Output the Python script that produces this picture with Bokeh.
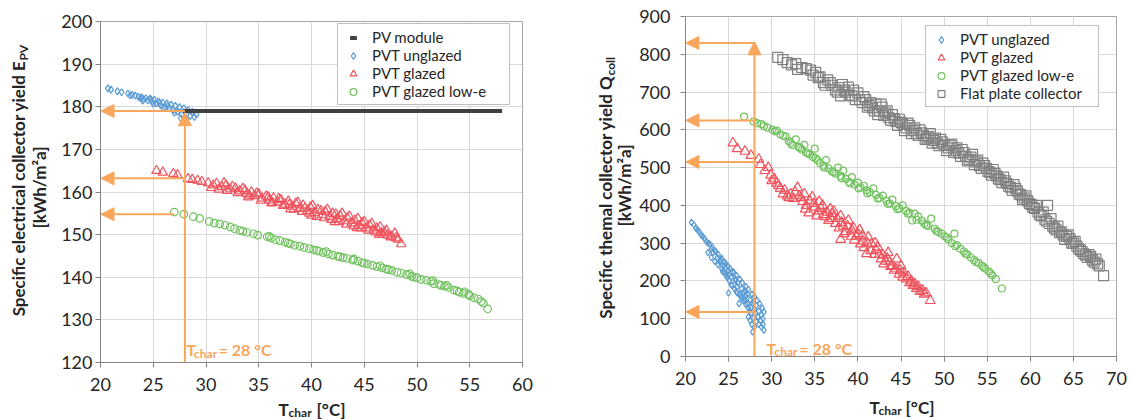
import math
from bokeh.plotting import figure
from bokeh.layouts import row, gridplot
from bokeh.models import Range1d, FixedTicker, Label, Arrow, NormalHead
from bokeh.embed import file_html
from bokeh.resources import INLINE

# ---------------- data ----------------
x_ticks_left = [20, 25, 30, 35, 40, 45, 50, 55, 60]
y_ticks_left = [120, 130, 140, 150, 160, 170, 180, 190, 200]
x_ticks_right = [20, 25, 30, 35, 40, 45, 50, 55, 60, 65, 70]
y_ticks_right = [0, 100, 200, 300, 400, 500, 600, 700, 800, 900]

# Left panel: specific electrical yield E_PV [kWh/m2a] vs T_char [degC]
pv_module_x = [28.4, 29.3, 30.2, 31.1, 32.0, 32.9, 33.8, 34.7, 35.6, 36.5, 37.4, 38.3,
               39.2, 40.1, 41.0, 41.9, 42.8, 43.7, 44.6, 45.5, 46.4, 47.3, 48.2, 49.1,
               50.0, 50.9, 51.8, 52.7, 53.6, 54.5, 55.4, 56.3, 57.2, 57.5]
pv_module_y = [179.0] * len(pv_module_x)

elec_unglazed = [(20.7, 184.3), (21.0, 184.0), (21.6, 183.6), (22.0, 183.4), (22.6, 183.1),
                 (23.0, 182.8), (23.3, 182.6), (23.6, 182.3), (23.9, 182.2), (24.1, 181.8),
                 (24.3, 182.0), (24.5, 181.5), (24.7, 181.9), (24.9, 181.2), (25.1, 181.6),
                 (25.3, 180.8), (25.5, 181.3), (25.7, 180.4), (25.9, 181.0), (26.1, 180.0),
                 (26.3, 180.8), (26.5, 179.6), (26.7, 180.5), (26.9, 179.2), (27.1, 180.2),
                 (27.3, 178.8), (27.5, 179.9), (27.7, 178.2), (27.9, 179.6), (28.0, 176.5),
                 (28.1, 177.4), (28.3, 179.2), (28.5, 177.8), (28.7, 178.8), (28.9, 177.6),
                 (29.1, 178.2), (24.0, 181.4), (25.0, 180.7), (26.0, 179.6), (27.0, 178.6),
                 (27.6, 177.3), (26.4, 180.3), (25.6, 180.9), (24.8, 181.6), (23.8, 182.0),
                 (22.8, 182.7)]
elec_glazed = [(25.3, 165.0), (25.9, 164.6), (26.9, 164.3), (27.3, 164.0), (28.3, 163.1),
               (28.7, 162.9), (29.2, 162.7), (29.6, 162.4), (30.2, 162.1), (30.7, 161.6),
               (31.0, 162.0), (31.5, 161.2), (31.9, 161.6), (32.3, 160.7), (32.8, 160.9),
               (33.2, 160.2), (33.5, 160.8), (33.9, 159.6), (34.3, 160.0), (34.6, 159.1),
               (35.0, 159.5), (35.3, 158.5), (35.7, 159.0), (36.0, 158.1), (36.4, 158.6),
               (36.8, 157.6), (37.1, 158.2), (37.5, 157.1), (37.8, 157.8), (38.2, 156.6),
               (38.5, 157.3), (38.9, 156.1), (39.2, 156.9), (39.6, 155.6), (39.9, 156.4),
               (40.3, 155.1), (40.6, 155.9), (41.0, 154.6), (41.3, 155.4), (41.7, 154.2),
               (42.0, 155.0), (42.4, 153.7), (42.7, 154.4), (43.1, 153.2), (43.4, 153.9),
               (43.8, 152.7), (44.1, 153.3), (44.5, 152.1), (44.8, 152.8), (45.2, 151.5),
               (45.5, 152.2), (45.9, 151.0), (46.2, 151.5), (46.6, 150.4), (46.9, 150.6),
               (47.2, 149.9), (47.6, 149.6), (48.0, 149.2), (48.5, 147.8), (30.5, 161.0),
               (32.0, 160.3), (34.0, 158.8), (36.2, 157.4), (38.0, 156.0), (40.0, 154.5),
               (42.2, 153.0), (44.3, 151.6), (46.4, 150.0),
               (31.2, 160.6), (31.7, 162.1), (32.5, 161.3), (33.0, 159.8), (33.7, 160.4),
               (34.1, 159.2), (34.8, 159.7), (35.2, 158.0), (35.9, 158.8), (36.3, 157.5),
               (36.9, 158.4), (37.3, 156.8), (37.9, 157.0), (38.3, 155.9), (38.7, 157.5),
               (39.1, 155.4), (39.4, 156.2), (39.8, 155.0), (40.1, 156.8), (40.5, 154.2),
               (40.9, 155.6), (41.2, 153.9), (41.5, 155.9), (41.9, 153.5), (42.3, 154.8),
               (42.6, 153.0), (42.9, 155.0), (43.3, 152.4), (43.6, 154.3), (44.0, 152.0),
               (44.4, 153.8), (44.7, 151.5), (45.0, 153.1), (45.4, 151.0), (45.7, 152.6),
               (46.1, 150.6), (46.5, 151.8), (46.8, 150.0), (47.1, 151.0), (47.5, 149.4),
               (47.9, 150.3), (48.2, 148.9)]
elec_lowe = [(27.0, 155.3), (27.9, 154.8), (28.8, 154.2), (29.4, 153.8), (30.3, 153.1),
             (30.8, 152.7), (31.3, 152.5), (31.8, 152.2), (32.3, 151.8), (32.7, 151.4),
             (33.5, 150.8), (33.9, 150.5), (34.5, 150.2), (34.9, 149.9), (35.8, 149.5),
             (36.2, 149.2), (36.6, 148.8), (37.0, 148.6), (37.5, 148.2), (38.0, 147.8),
             (38.4, 147.5), (38.9, 147.3), (39.3, 147.0), (39.8, 146.7), (40.2, 146.4),
             (40.7, 146.1), (41.1, 145.8), (41.6, 145.5), (42.0, 145.2), (42.5, 144.9),
             (43.0, 144.6), (43.4, 144.4), (43.9, 144.0), (44.4, 143.8), (44.8, 143.4),
             (45.3, 143.1), (45.8, 142.8), (46.2, 142.5), (46.7, 142.2), (47.1, 141.9),
             (47.6, 141.6), (48.1, 141.2), (48.5, 141.0), (49.0, 140.6), (49.5, 140.2),
             (50.0, 139.9), (50.4, 139.5), (50.9, 139.3), (51.3, 139.0), (51.6, 138.5),
             (52.1, 138.3), (52.6, 137.9), (53.0, 137.6), (53.5, 137.0), (54.0, 136.5),
             (54.4, 136.2), (54.9, 136.0), (55.4, 135.2), (55.8, 134.9), (56.1, 134.3),
             (56.7, 132.6), (36.0, 149.6), (41.4, 146.0), (44.0, 144.3), (46.5, 142.7),
             (49.3, 140.8), (51.5, 139.2), (52.8, 138.1), (54.5, 136.6), (55.0, 135.6),
             (33.2, 151.0), (37.8, 148.0), (40.5, 146.3), (42.7, 144.8), (45.0, 143.3),
             (47.3, 141.8), (49.7, 140.0), (52.3, 138.1), (53.8, 136.8), (56.3, 133.9)]

# Right panel: specific thermal yield Q_coll [kWh/m2a] vs T_char [degC]
therm_unglazed = [(20.7, 355), (21.2, 340), (21.6, 330), (22.0, 318), (22.4, 305), (22.8, 298),
                  (23.1, 290), (23.5, 278), (23.8, 270), (24.2, 260), (24.5, 250), (24.9, 240),
                  (25.2, 232), (25.6, 222), (25.9, 215), (26.3, 205), (26.6, 195), (27.0, 185),
                  (27.3, 178), (27.7, 165), (28.0, 158), (28.3, 148), (28.6, 140), (28.9, 128),
                  (29.1, 118), (22.6, 275), (23.0, 262), (23.4, 252), (23.8, 243), (24.2, 232),
                  (24.5, 222), (24.8, 210), (25.1, 200), (25.4, 188), (25.7, 178), (26.0, 168),
                  (26.4, 158), (26.7, 148), (27.0, 138), (27.3, 128), (27.6, 115), (27.9, 102),
                  (28.2, 92), (28.5, 85), (28.8, 78), (29.1, 70), (27.8, 65), (25.0, 168),
                  (26.2, 140), (27.5, 95), (24.0, 250), (25.0, 215), (26.0, 185), (27.0, 160),
                  (28.0, 125), (23.2, 275), (24.6, 235), (25.8, 200), (26.8, 170), (27.8, 140),
                  (21.0, 348), (21.4, 335), (21.8, 322), (22.2, 312), (22.6, 300), (23.0, 285),
                  (23.4, 280), (23.7, 262), (24.1, 255), (24.4, 240), (24.7, 245), (25.0, 228),
                  (25.3, 210), (25.5, 225), (25.8, 205), (26.1, 195), (26.5, 180), (26.9, 175),
                  (27.2, 165), (27.5, 150), (27.9, 145), (28.2, 135), (28.5, 120), (28.8, 110),
                  (29.0, 100), (26.3, 165), (26.9, 150), (27.2, 140), (27.6, 130), (28.1, 115),
                  (28.4, 105), (28.7, 95), (29.0, 85), (24.3, 225), (24.7, 215), (25.3, 190),
                  (25.9, 172), (26.6, 155), (27.4, 120), (27.7, 85), (28.0, 78), (27.3, 105)]
therm_glazed = [(25.5, 565), (26.0, 550), (26.9, 543), (27.6, 532), (28.5, 522), (28.7, 508),
                (29.6, 500), (29.9, 480), (30.3, 470), (30.6, 458), (31.0, 445), (31.5, 440),
                (32.2, 430), (32.5, 418), (33.0, 447), (33.2, 425), (33.6, 410), (34.0, 400),
                (34.3, 380), (34.7, 422), (35.0, 395), (35.4, 385), (35.9, 400), (36.2, 370),
                (36.6, 360), (37.0, 378), (37.4, 352), (37.8, 340), (38.0, 310), (38.3, 345),
                (38.6, 330), (38.9, 360), (39.2, 318), (39.6, 308), (40.0, 325), (40.3, 298),
                (40.7, 288), (41.0, 272), (41.2, 316), (41.5, 280), (41.9, 270), (42.3, 290),
                (42.7, 258), (43.0, 245), (43.4, 260), (43.8, 238), (44.2, 228), (44.5, 258),
                (44.8, 218), (45.2, 210), (45.6, 205), (46.0, 195), (46.4, 188), (46.8, 180),
                (47.2, 172), (47.7, 165), (48.4, 148), (32.0, 420), (33.8, 430), (35.5, 410),
                (36.8, 390), (38.0, 372), (39.5, 340), (40.5, 320), (42.0, 300), (43.5, 275),
                (45.0, 240), (36.0, 375),
                (29.2, 492), (30.0, 465), (30.8, 452), (31.3, 430), (31.8, 425), (32.7, 435),
                (33.4, 420), (33.9, 390), (34.4, 412), (34.9, 405), (35.2, 372), (35.7, 392),
                (36.4, 382), (36.9, 365), (37.2, 385), (37.6, 365), (38.1, 355), (38.4, 325),
                (38.8, 345), (39.3, 335), (39.8, 318), (40.2, 335), (40.6, 305), (41.1, 300),
                (41.6, 298), (42.1, 282), (42.5, 270), (42.9, 268), (43.2, 252), (43.7, 250),
                (44.0, 240), (44.4, 232), (44.9, 228), (45.3, 222), (45.8, 212), (46.2, 200),
                (46.6, 192), (47.0, 185), (47.5, 175), (47.9, 168)]
therm_lowe = [(26.8, 635), (27.9, 622), (28.8, 615), (29.5, 606), (30.1, 600), (30.6, 598),
              (31.0, 588), (31.6, 582), (32.0, 570), (32.4, 560), (32.8, 575), (33.1, 555),
              (33.5, 548), (33.8, 560), (34.0, 540), (34.4, 535), (34.8, 528), (35.0, 550),
              (35.3, 520), (35.6, 512), (36.0, 505), (36.3, 520), (36.6, 498), (37.0, 490),
              (37.4, 484), (37.7, 500), (38.0, 478), (38.3, 492), (38.6, 470), (39.0, 462),
              (39.3, 475), (39.6, 455), (40.0, 460), (40.3, 448), (40.7, 452), (41.0, 440),
              (41.4, 435), (41.8, 445), (42.1, 428), (42.5, 420), (42.9, 426), (43.3, 412),
              (43.7, 405), (44.0, 415), (44.4, 398), (44.8, 392), (45.2, 400), (45.6, 385),
              (46.0, 380), (46.3, 360), (46.6, 378), (47.0, 370), (47.4, 360), (47.7, 352),
              (48.1, 346), (48.5, 365), (48.9, 338), (49.3, 330), (49.7, 325), (50.1, 318),
              (50.5, 310), (50.9, 300), (51.2, 325), (51.3, 292), (51.9, 285), (52.3, 278),
              (52.7, 270), (53.1, 262), (53.5, 255), (54.0, 248), (54.4, 240), (54.8, 232),
              (55.2, 225), (55.6, 215), (56.0, 205), (56.7, 180),
              (28.3, 618), (29.1, 610), (30.4, 596), (31.3, 585), (32.2, 565), (33.3, 552),
              (34.2, 538), (35.1, 525), (36.1, 500), (37.2, 488), (38.1, 472), (39.1, 458),
              (40.1, 445), (41.1, 432), (42.3, 418), (43.5, 404), (44.6, 390), (45.8, 378),
              (46.8, 362), (47.9, 348), (49.1, 332), (50.3, 315), (51.5, 295), (52.5, 272),
              (53.7, 250), (54.6, 236), (55.4, 220)]
therm_flat = [(30.7, 792), (31.8, 778), (32.8, 775), (33.5, 765), (34.5, 758), (35.1, 752),
              (35.6, 740), (36.0, 725), (36.5, 732), (37.0, 718), (37.4, 706), (37.8, 712),
              (38.2, 720), (38.6, 700), (38.9, 713), (39.3, 690), (39.7, 680), (40.0, 698),
              (40.5, 672), (40.9, 680), (41.3, 665), (41.7, 658), (42.1, 668), (42.5, 650),
              (42.8, 660), (43.2, 645), (43.6, 632), (44.0, 640), (44.4, 622), (44.8, 628),
              (45.2, 615), (45.6, 605), (46.0, 612), (46.4, 598), (46.8, 590), (47.2, 600),
              (47.6, 585), (48.0, 578), (48.4, 590), (48.8, 572), (49.2, 565), (49.6, 575),
              (50.0, 560), (50.5, 552), (50.9, 562), (51.3, 545), (51.7, 538), (52.1, 548),
              (52.5, 530), (52.9, 522), (53.3, 535), (53.7, 515), (54.1, 505), (54.5, 512),
              (54.9, 498), (55.3, 488), (55.7, 495), (56.1, 478), (56.5, 468), (56.9, 475),
              (57.3, 458), (57.7, 448), (58.1, 455), (58.5, 438), (58.9, 428), (59.3, 420),
              (59.7, 412), (60.1, 402), (60.5, 392), (60.9, 382), (61.3, 372), (61.7, 362),
              (62.0, 400), (62.2, 352), (62.6, 345), (63.0, 335), (63.4, 328), (63.8, 322),
              (64.2, 318), (64.6, 312), (65.0, 300), (65.4, 292), (65.8, 282), (66.2, 272),
              (66.6, 262), (67.0, 265), (67.4, 250), (67.8, 245), (68.5, 214),
              (31.3, 786), (32.3, 772), (33.0, 760), (34.0, 762), (34.8, 745), (35.4, 738),
              (36.2, 718), (36.8, 725), (37.6, 700), (38.0, 690), (38.4, 705), (39.0, 692),
              (39.5, 705), (40.2, 680), (40.7, 688), (41.1, 660), (41.5, 672), (41.9, 650),
              (42.3, 640), (42.7, 668), (43.0, 638), (43.4, 650), (43.8, 625), (44.2, 630),
              (44.6, 612), (45.0, 620), (45.4, 598), (45.8, 618), (46.2, 590), (46.6, 605),
              (47.0, 585), (47.4, 592), (47.8, 575), (48.2, 582), (48.6, 565), (49.0, 578),
              (49.4, 558), (49.8, 568), (50.3, 545), (50.7, 558), (51.1, 540), (51.5, 552),
              (51.9, 530), (52.3, 540), (52.7, 518), (53.1, 528), (53.5, 508), (53.9, 520),
              (54.3, 498), (54.7, 505), (55.1, 490), (55.5, 480), (55.9, 485), (56.3, 470),
              (56.7, 460), (57.1, 465), (57.5, 450), (57.9, 440), (58.3, 445), (58.7, 430),
              (59.1, 415), (59.5, 425), (59.9, 405), (60.3, 395), (60.7, 400), (61.1, 375),
              (61.5, 382), (61.9, 358), (62.4, 365), (62.8, 340), (63.2, 345), (63.6, 330),
              (64.0, 310), (64.4, 322), (64.8, 300), (65.2, 305), (65.6, 285), (66.0, 278),
              (66.4, 268), (66.8, 270), (67.2, 255), (67.6, 258), (68.0, 240)]

# Reading aids at T_char = 28 degC
t_char = 28.0
left_arrow_levels = [179.0, 163.2, 154.8]
left_arrow_starts = [28.0, 28.0, 27.0]
left_vertical_top = 178.6
right_arrow_levels = [830, 625, 515, 118]
right_vertical_top = 833

# ---------------- styling ----------------
FONT = "Lato"
ORANGE = "#F8A65B"
BLUE = "#5B9BD5"
RED = "#F0555F"
GREEN = "#70C25E"
SQGRAY = "#808080"
PVDARK = "#404040"
AXGRAY = "#868686"
TXT = "#262626"


def unzip(pairs):
    return [a for a, b in pairs], [b for a, b in pairs]


def base_fig(width, height, xr, yr, xt, yt, left, right, top, bottom):
    p = figure(width=width, height=height, x_range=Range1d(*xr), y_range=Range1d(*yr),
               output_backend="svg", toolbar_location=None,
               min_border_left=left, min_border_right=right,
               min_border_top=top, min_border_bottom=bottom)
    p.xaxis.ticker = FixedTicker(ticks=xt)
    p.yaxis.ticker = FixedTicker(ticks=yt)
    p.xgrid.ticker = FixedTicker(ticks=xt)
    p.ygrid.ticker = FixedTicker(ticks=yt)
    p.grid.grid_line_color = "#D9D9D9"
    p.grid.grid_line_width = 1
    p.axis.axis_line_color = AXGRAY
    p.axis.major_tick_line_color = AXGRAY
    p.axis.major_tick_out = 5
    p.axis.major_tick_in = 0
    p.axis.minor_tick_line_color = None
    p.axis.major_label_text_font = FONT
    p.axis.major_label_text_font_size = "18px"
    p.axis.major_label_text_color = TXT
    p.xaxis.major_label_standoff = 10
    p.outline_line_color = "#A6A6A6"
    p.background_fill_color = "white"
    p.border_fill_color = "white"
    return p


def text_fig(width, height, left, right, top, bottom):
    p = figure(width=width, height=height, x_range=Range1d(0, 1), y_range=Range1d(0, 1),
               output_backend="svg", toolbar_location=None,
               x_axis_location=None, y_axis_location=None,
               min_border_left=left, min_border_right=right,
               min_border_top=top, min_border_bottom=bottom)
    p.grid.visible = False
    p.outline_line_color = None
    p.background_fill_color = "white"
    p.border_fill_color = "white"
    return p


def style_legend(p, loc, label_width):
    lg = p.legend[0]
    lg.location = loc
    lg.label_text_font = FONT
    lg.label_text_font_size = "15px"
    lg.label_text_color = TXT
    lg.border_line_color = "#7F7F7F"
    lg.border_line_width = 1
    lg.background_fill_alpha = 1
    lg.glyph_width = 22
    lg.glyph_height = 17
    lg.label_height = 17
    lg.label_standoff = 8
    lg.label_width = label_width
    lg.padding = 4
    lg.spacing = 0
    lg.margin = 0


def add_label(p, text, x, y, size, bold=True, color=TXT, units="screen", angle=0.0,
              align="left", baseline="alphabetic"):
    p.add_layout(Label(x=x, y=y, x_units=units, y_units=units, text=text,
                       text_font=FONT, text_font_size=size, text_color=color,
                       text_font_style="bold" if bold else "normal", angle=angle,
                       text_align=align, text_baseline=baseline))


def arrow(p, xs, ys, xe, ye):
    p.add_layout(Arrow(end=NormalHead(size=13, fill_color=ORANGE, line_color=ORANGE, line_width=1),
                       x_start=xs, y_start=ys, x_end=xe, y_end=ye,
                       line_color=ORANGE, line_width=2))


# ---------------- left panel ----------------
# page: frame x 100..522, y 21..362
p1 = base_fig(510, 396, (20, 60), (120, 200), x_ticks_left, y_ticks_left, 50, 38, 21, 34)
p1.yaxis.major_label_standoff = 3

ux, uy = unzip(elec_unglazed)
gx, gy = unzip(elec_glazed)
lx, ly = unzip(elec_lowe)
p1.scatter(lx, ly, marker="circle", size=7.5, fill_alpha=0, line_color=GREEN, line_width=1.2,
           legend_label="PVT glazed low-e")
p1.scatter(gx, gy, marker="triangle", size=9.5, fill_alpha=0, line_color=RED, line_width=1.2,
           legend_label="PVT glazed")
p1.scatter(ux, uy, marker="diamond", size=7, fill_alpha=0, line_color=BLUE, line_width=1.2,
           legend_label="PVT unglazed")
p1.scatter(pv_module_x, pv_module_y, marker="dash", size=12, line_color=PVDARK, line_width=4,
           legend_label="PV module")
p1.line(pv_module_x, pv_module_y, line_color=PVDARK, line_width=4)
items = p1.legend[0].items
p1.legend[0].items = [items[3], items[2], items[1], items[0]]
style_legend(p1, (237, 257), 133)

arrow(p1, t_char, 120, t_char, left_vertical_top)
for lv, ls in zip(left_arrow_levels, left_arrow_starts):
    arrow(p1, ls, lv, 20.05, lv)

add_label(p1, "T", 28.16, 123.0, "16px", color=ORANGE, units="data")
add_label(p1, "char", 28.85, 122.0, "12px", color=ORANGE, units="data")
add_label(p1, "= 28 °C", 31.2, 123.0, "16px", color=ORANGE, units="data")

# y title of left panel: figure at page x 0..50, frame y 21..362
yt1 = text_fig(50, 396, 0, 0, 21, 34)
add_label(yt1, "Specific electrical collector yield E", 18, 302, "17px", angle=math.pi / 2,
          align="right", baseline="middle")
add_label(yt1, "PV", 23, 302, "12px", angle=math.pi / 2, align="left", baseline="middle")
add_label(yt1, "[kWh/m²a]", 39, 175, "17px", angle=math.pi / 2, align="center", baseline="middle")

# x title of left panel: page y 396..419, frame x 100..522
xt1 = text_fig(510, 23, 50, 38, 0, 0)
add_label(xt1, "T", 178, 10, "17px")
add_label(xt1, "char", 188, 7, "12px")
add_label(xt1, "[°C]", 216, 10, "17px")

# ---------------- right panel ----------------
# page: frame x 683..1116, y 16..356
p2 = base_fig(495, 396, (20, 70), (0, 900), x_ticks_right, y_ticks_right, 47, 15, 16, 40)
p2.yaxis.major_label_standoff = 10

ux, uy = unzip(therm_unglazed)
gx, gy = unzip(therm_glazed)
lx, ly = unzip(therm_lowe)
fx, fy = unzip(therm_flat)
p2.scatter(fx, fy, marker="square", size=10, fill_alpha=0, line_color=SQGRAY, line_width=1.2,
           legend_label="Flat plate collector")
p2.scatter(lx, ly, marker="circle", size=7, fill_alpha=0, line_color=GREEN, line_width=1.2,
           legend_label="PVT glazed low-e")
p2.scatter(gx, gy, marker="triangle", size=10, fill_alpha=0, line_color=RED, line_width=1.2,
           legend_label="PVT glazed")
p2.scatter(ux, uy, marker="diamond", size=6.5, fill_alpha=0, line_color=BLUE, line_width=1.2,
           legend_label="PVT unglazed")
items = p2.legend[0].items
p2.legend[0].items = [items[3], items[2], items[1], items[0]]
style_legend(p2, (240, 249), 134)

arrow(p2, t_char, 0, t_char, right_vertical_top)
for lv in right_arrow_levels:
    arrow(p2, t_char, lv, 20.05, lv)

add_label(p2, "T", 29.39, 21.2, "16px", color=ORANGE, units="data")
add_label(p2, "char", 30.31, 13.2, "12px", color=ORANGE, units="data")
add_label(p2, "= 28 °C", 33.2, 21.2, "16px", color=ORANGE, units="data")

# y title of right panel: figure at page x 560..636, frame y 16..356
yt2 = text_fig(76, 396, 0, 0, 16, 40)
add_label(yt2, "Specific themal collector yield Q", 45, 281, "17px", angle=math.pi / 2,
          align="right", baseline="middle")
add_label(yt2, "coll", 50, 281, "12px", angle=math.pi / 2, align="left", baseline="middle")
add_label(yt2, "[kWh/m²a]", 64, 171, "17px", angle=math.pi / 2, align="center", baseline="middle")

# x title of right panel: page y 396..419, frame x 683..1116
xt2 = text_fig(495, 23, 47, 15, 0, 0)
add_label(xt2, "T", 184, 12, "17px")
add_label(xt2, "char", 193, 9, "12px")
add_label(xt2, "[°C]", 220, 12, "17px")

g1 = gridplot([[yt1, p1], [None, xt1]], toolbar_location=None)
g2 = gridplot([[yt2, p2], [None, xt2]], toolbar_location=None)
layout = row(g1, g2)
open("out.html", "w").write(file_html(layout, INLINE))
